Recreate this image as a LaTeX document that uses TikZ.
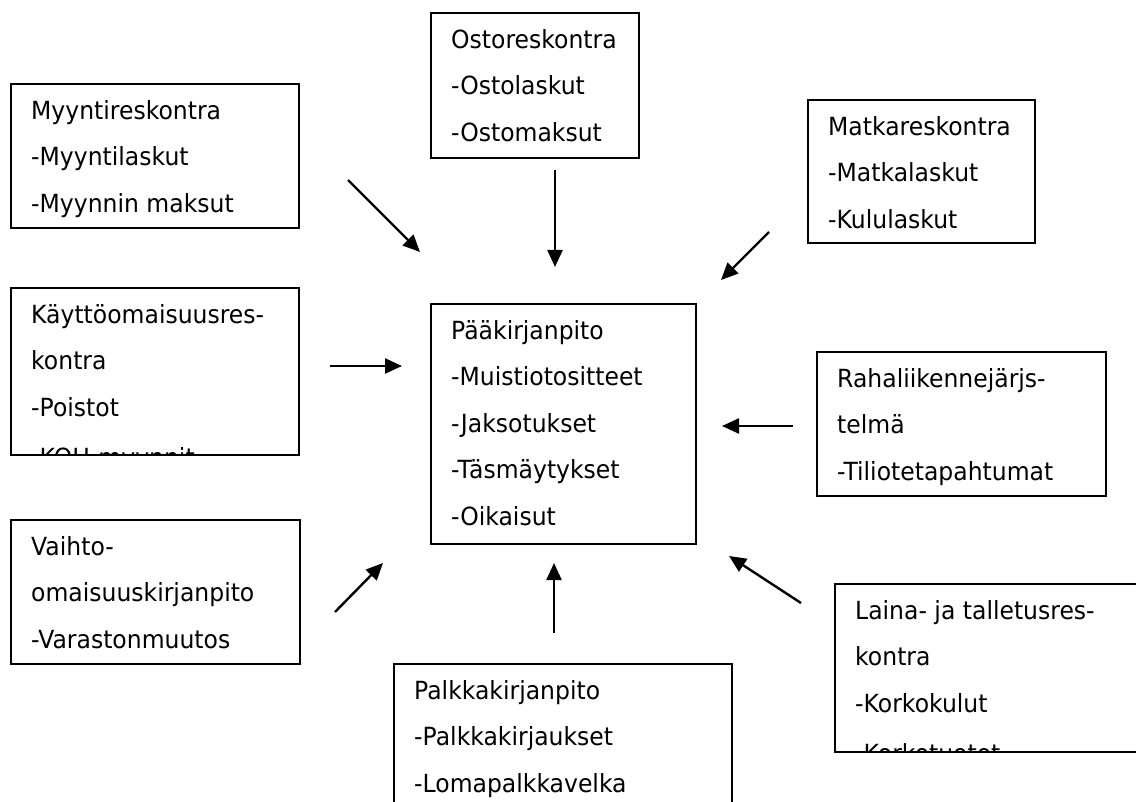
\documentclass[tikz,border=0pt]{standalone}
\usepackage{fontspec}
\setmainfont{DejaVu Sans}[FakeStretch=0.94]
\usetikzlibrary{arrows.meta}

\tikzset{
  panel/.style={draw=black, line width=2pt, inner sep=0pt, anchor=north west},
  entry/.style={inner sep=0pt, anchor=north west, align=left,
                font=\fontsize{25}{46.5}\selectfont},
  feed/.style={line width=2.4pt, -{Triangle[length=17pt,width=15pt]}},
}
% first-line strut so every text block starts at the same baseline
\newcommand\leadstrut{\rule{0pt}{26pt}}
% \ledger{name}{x}{y}{width}{height}{lines}: a framed register with its entries
\newcommand\ledger[6]{%
  \node[panel, minimum width=#4pt, minimum height=#5pt] (#1) at (#2,#3) {};
  \begin{scope}
    \clip ([shift={(1pt,1pt)}]#1.south west) rectangle ([shift={(-1pt,-1pt)}]#1.north east);
    \node[entry] (#1-text) at ([xshift=21pt,yshift=-10pt]#1.north west) {\leadstrut #6};
  \end{scope}
}

\begin{document}
\begin{tikzpicture}[x=1pt,y=-1pt]
\clip (0,0) rectangle (1136,802);
\fill[white] (0,0) rectangle (1136,802);

\ledger{osto}{430}{12}{208}{145}{Ostoreskontra\\-Ostolaskut\\-Ostomaksut}
\ledger{myynti}{10}{83}{288}{144}{Myyntireskontra\\-Myyntilaskut\\-Myynnin maksut}
\ledger{matka}{807}{99}{227}{143}{Matkareskontra\\-Matkalaskut\\-Kululaskut}
\ledger{kaytto}{10}{287}{288}{167}{Käyttöomaisuusres-\\kontra\\-Poistot\\[4pt]-KOH-myynnit}
\ledger{paa}{430}{303}{265}{240}{Pääkirjanpito\\-Muistiotositteet\\-Jaksotukset\\-Täsmäytykset\\-Oikaisut}
\ledger{raha}{816}{351}{289}{144}{Rahaliikennejärjs-\\telmä\\-Tiliotetapahtumat}
\ledger{vaihto}{10}{519}{289}{144}{Vaihto-\\omaisuuskirjanpito\\-Varastonmuutos}
\ledger{palkka}{393}{663}{338}{160}{Palkkakirjanpito\\-Palkkakirjaukset\\-Lomapalkkavelka}
\ledger{laina}{834}{583}{320}{168}{Laina- ja talletusres-\\kontra\\-Korkokulut\\[4pt]-Korkotuotot}

% arrow end points around the general ledger
\coordinate (myynti-a) at (348,180);  \coordinate (myynti-b) at (420,252);
\coordinate (osto-a)   at (555,170);  \coordinate (osto-b)   at (555,267);
\coordinate (matka-a)  at (769,232);  \coordinate (matka-b)  at (721,280);
\coordinate (kaytto-a) at (330,366);  \coordinate (kaytto-b) at (402,366);
\coordinate (raha-a)   at (793,426);  \coordinate (raha-b)   at (722,426);
\coordinate (vaihto-a) at (335,612);  \coordinate (vaihto-b) at (383,563);
\coordinate (palkka-a) at (554,633);  \coordinate (palkka-b) at (554,563);
\coordinate (laina-a)  at (801,603);  \coordinate (laina-b)  at (729,556);

\foreach \s in {myynti,osto,matka,kaytto,raha,vaihto,palkka,laina}
  \draw[feed] (\s-a) -- (\s-b);
\end{tikzpicture}
\end{document}
